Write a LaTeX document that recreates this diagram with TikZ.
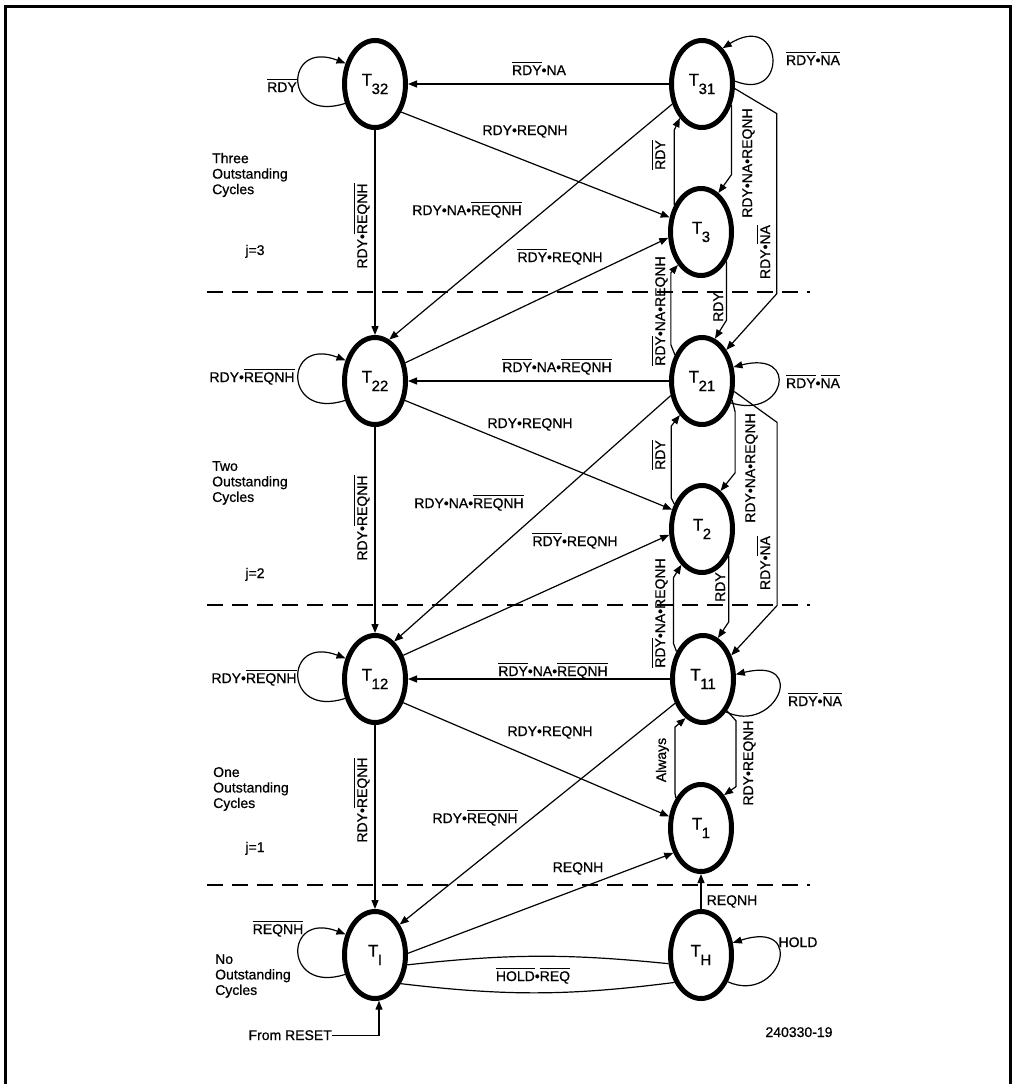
\documentclass[tikz,border=0pt]{standalone}
\usepackage{fontspec}
\setmainfont{Liberation Sans}[FakeBold=0.7]
\usetikzlibrary{shapes.geometric,arrows.meta}
\newcommand{\ovl}[1]{\leavevmode\vbox{\hrule height 1.2pt\kern 2pt\hbox{#1}}}
\newcommand{\Tsub}[1]{{\fontsize{17}{17}\selectfont T\kern-0.5pt\raisebox{-8.5pt}{\fontsize{15}{15}\selectfont #1}}}
\tikzset{
 st/.style={ellipse, draw, line width=5pt, minimum width=61pt, minimum height=87pt, inner sep=0pt},
 tr/.style={line width=1.2pt, -{Triangle[length=9pt,width=7pt]}},
 ln/.style={line width=1.2pt},
 lab/.style={font=\fontsize{14}{15}\selectfont, inner sep=0pt, anchor=base},
 vlab/.style={lab, rotate=90},
 side/.style={font=\fontsize{14}{15.5}\selectfont, inner sep=0pt, anchor=west, align=left},
 sep/.style={line width=1.3pt, dash pattern=on 16pt off 9pt},
}
\begin{document}
\begin{tikzpicture}[x=1pt,y=-1pt]
\useasboundingbox (0,0) rectangle (1012,1084);
\fill[white] (0,0) rectangle (1012,1084);
\draw[line width=3pt] (5,1084) -- (5,6) -- (1010,6) -- (1010,1084);
% level separators
\draw[sep] (207,292) -- (810,292);
\draw[sep] (207,605) -- (810,605);
\draw[sep] (207,885) -- (810,885);
% states
\node[st] (T32) at (375,84) {\Tsub{32}};
\node[st] (T31) at (702,84) {\Tsub{31}};
\node[st] (T3) at (701,232) {\Tsub{3}};
\node[st] (T22) at (375,381) {\Tsub{22}};
\node[st] (T21) at (702,381) {\Tsub{21}};
\node[st] (T2) at (702,529) {\Tsub{2}};
\node[st] (T12) at (375,679) {\Tsub{12}};
\node[st] (T11) at (703,679) {\Tsub{11}};
\node[st] (T1) at (701,828) {\Tsub{1}};
\node[st] (TI) at (375,955) {\Tsub{I}};
\node[st] (TH) at (701,955) {\Tsub{H}};
\node[lab, anchor=base east] (reset) at (332,1040) {From RESET};
% left loops
\draw[tr] (T32.213) .. controls +(-62,20) and +(-62,-24) .. (T32.145);
\draw[tr] (T22.213) .. controls +(-62,20) and +(-62,-24) .. (T22.145);
\draw[tr] (T12.213) .. controls +(-62,20) and +(-62,-24) .. (T12.145);
\draw[tr] (TI.213) .. controls +(-62,20) and +(-62,-24) .. (TI.145);
% right loops
\draw[tr] (T31.5) .. controls +(55,22) and +(60,-38) .. (T31.60);
\draw[tr] (T21.323) .. controls +(54,17) and +(67,-17) .. (T21.24);
\draw[tr] (T11.305) .. controls +(49,23) and +(74,-18) .. (T11.8);
\draw[tr] (TH.315) .. controls +(52,23) and +(75,-24) .. (TH.21);
% straight connectors
\draw[tr] (T31) -- (T32);
\draw[tr] (T32.313) -- (T3.155);
\draw[tr] (T32) -- (T22);
\draw[tr] (T31.214) -- (T22.71);
\draw[tr] (T22.31) -- (T3.190);
\draw[tr] (T21) -- (T22);
\draw[tr] (T22.327) -- (T2.147);
\draw[tr] (T22) -- (T12);
\draw[tr] (T21.205) -- (T12.63);
\draw[tr] (T12.40) -- (T2.190);
\draw[tr] (T11) -- (T12);
\draw[tr] (T12.320) -- (T1.160);
\draw[tr] (T12) -- (TI);
\draw[tr] (T11.221) -- (TI.51);
\draw[tr] (TI.3) -- (T1.222);
\draw[tr] (TH) -- (T1);
\draw[ln] (TI.343) to[bend left=6] (TH.195);
\draw[ln] (TI.312) to[bend right=7] (TH.226);
\draw[tr] (reset.east) -| (TI.275);
% right column bent connectors
\draw[tr] (T3.135) -- ++(0,-75) -- (T31.237);
\draw[tr] (T31.325) -- ++(0,70) -- (T3.66);
\draw[tr] (T31.352) -- ++(42,25) -- ++(0,180) -- (T21.52);
\draw[tr] (T3.311) -- ++(0,59) -- (T21.73);
\draw[tr] (T21.136) -- ++(-4,-10) -- ++(0,-72) -- (T3.235);
\draw[tr] (T2.138) -- ++(-3,-6) -- ++(0,-72) -- (T21.237);
\draw[tr] (T21.328) -- ++(3,12) -- ++(0,61) -- (T2.64);
\draw[tr] (T21.342) -- ++(43,31) -- ++(0,183) -- (T11.40);
\draw[tr] (T2.315) -- ++(0,66) -- (T11.70);
\draw[tr] (T11.134) -- ++(-3,-8) -- ++(0,-66) -- (T2.240);
\draw[tr] (T1.130) -- ++(-1,-5) -- ++(0,-66) -- (T11.246);
\draw[tr] (T11.307) -- ++(9,10) -- ++(0,66) -- (T1.55);
% horizontal labels
\node[lab] at (539,75) {\ovl{RDY}•NA};
\node[lab] at (525,135) {RDY•REQNH};
\node[lab] at (467,215) {RDY•NA•\ovl{REQNH}};
\node[lab] at (560,262) {\ovl{RDY}•REQNH};
\node[lab] at (557,372) {\ovl{RDY}•NA•\ovl{REQNH}};
\node[lab] at (530,428) {RDY•REQNH};
\node[lab] at (469,508) {RDY•NA•\ovl{REQNH}};
\node[lab] at (575,546) {\ovl{RDY}•REQNH};
\node[lab] at (553,676) {\ovl{RDY}•NA•\ovl{REQNH}};
\node[lab] at (550,736) {RDY•REQNH};
\node[lab] at (475,823) {RDY•\ovl{REQNH}};
\node[lab] at (578,872) {REQNH};
\node[lab] at (732,905) {REQNH};
\node[lab] at (798,947) {HOLD};
\node[lab] at (533,981) {\ovl{HOLD}•\ovl{REQ}};
\node[lab] at (278,934) {\ovl{REQNH}};
\node[lab] at (252,382) {RDY•\ovl{REQNH}};
\node[lab] at (254,683) {RDY•\ovl{REQNH}};
\node[lab] at (282,92) {\ovl{RDY}};
\node[lab] at (813,65) {\ovl{RDY}•\ovl{NA}};
\node[lab] at (813,388) {\ovl{RDY}•\ovl{NA}};
\node[lab] at (815,706) {\ovl{RDY}•\ovl{NA}};
\node[lab] at (799,1037) {240330-19};
% vertical labels
\node[vlab] at (367,226) {RDY•\ovl{REQNH}};
\node[vlab] at (367,518) {RDY•\ovl{REQNH}};
\node[vlab] at (367,800) {RDY•\ovl{REQNH}};
\node[vlab] at (665,155) {\ovl{RDY}};
\node[vlab] at (752,163) {RDY•NA•REQNH};
\node[vlab] at (770,252) {RDY•\ovl{NA}};
\node[vlab] at (723,307) {RDY};
\node[vlab] at (665,311) {\ovl{RDY}•NA•REQNH};
\node[vlab] at (665,455) {\ovl{RDY}};
\node[vlab] at (755,468) {RDY•NA•REQNH};
\node[vlab] at (770,563) {RDY•\ovl{NA}};
\node[vlab] at (725,587) {RDY};
\node[vlab] at (665,613) {\ovl{RDY}•NA•REQNH};
\node[vlab] at (666,760) {Always};
\node[vlab] at (753,763) {RDY•REQNH};
% side texts
\node[side] at (212,175) {Three\\Outstanding\\Cycles};
\node[side] at (212,483) {Two\\Outstanding\\Cycles};
\node[side] at (213,789) {One\\Outstanding\\Cycles};
\node[side] at (215,976) {No\\Outstanding\\Cycles};
\node[lab] at (255,255) {j=3};
\node[lab] at (255,578) {j=2};
\node[lab] at (255,852) {j=1};
\end{tikzpicture}
\end{document}
